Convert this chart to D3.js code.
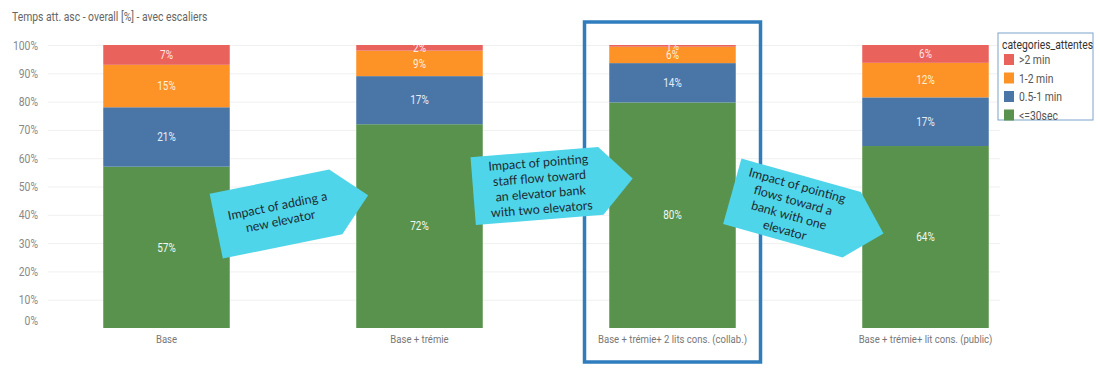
<!DOCTYPE html>
<html>
<head>
<meta charset="utf-8">
<script src="https://cdn.jsdelivr.net/npm/d3@7"></script>
<style>
  body { margin: 0; background: #fff; }
  svg { display: block; font-family: "Roboto", sans-serif; }
</style>
</head>
<body>
<svg width="1100" height="370"></svg>
<script>
// data
var scenarios = ["Base", "Base + trémie", "Base + trémie+ 2 lits cons. (collab.)", "Base + trémie+ lit cons. (public)"];
var categories = [">2 min", "1-2 min", "0.5-1 min", "<=30sec"];
var colors = ["#ea625c", "#fd9227", "#4a76a7", "#58924d"];
var over2min = [7, 2, 0.6, 6.3];
var min1to2 = [15, 9, 5.8, 12.2];
var min05to1 = [21, 17, 13.9, 17.2];
var under30s = [57, 72, 79.7, 64.3];
var yTicks = [0, 10, 20, 30, 40, 50, 60, 70, 80, 90, 100];

var arrows = [
  {cx: 276, cy: 214, bw: 122, h: 66, tl: 33, rot: -11.5, dx: 3, lines: ["Impact of adding a", "new elevator"]},
  {cx: 537, cy: 186, bw: 128, h: 68, tl: 32, rot: -4.5, dx: 3, lines: ["Impact of pointing", "staff flow toward", "an elevator bank", "with two elevators"]},
  {cx: 792, cy: 208, bw: 124, h: 68, tl: 33, rot: 15.6, dx: -1, lines: ["Impact of pointing", "flows toward a", "bank with one", "elevator"]}
];

var svg = d3.select("svg");
var narrow = 0.83; // horizontal squeeze to mimic the condensed font

var rows = scenarios.map(function(s, i) {
  return {scenario: s, ">2 min": over2min[i], "1-2 min": min1to2[i], "0.5-1 min": min05to1[i], "<=30sec": under30s[i]};
});

// stack from bottom: <=30sec first
var stackOrder = categories.slice().reverse();
var series = d3.stack().keys(stackOrder)(rows);

var x = d3.scaleBand().domain(scenarios).range([40, 1052]).paddingInner(0.5).paddingOuter(0.25);
var y = d3.scaleLinear().domain([0, 100]).range([328, 45]);
var color = d3.scaleOrdinal().domain(categories).range(colors);

function narrowText(g, px, py) {
  return g.append("g").attr("transform", "translate(" + px + "," + py + ") scale(" + narrow + ",1)")
    .append("text");
}

// title
narrowText(svg, 12, 21)
  .attr("fill", "#666").style("font-size", "12.5px")
  .text("Temps att. asc - overall [%] - avec escaliers");

// gridlines
svg.append("g").selectAll("line")
  .data(yTicks.slice(1))
  .enter().append("line")
  .attr("x1", 48).attr("x2", 1000)
  .attr("y1", function(d) { return y(d) + 0.5; })
  .attr("y2", function(d) { return y(d) + 0.5; })
  .attr("stroke", "#f0f0f0");

// y axis
var yAxis = svg.append("g")
  .attr("transform", "translate(38,0)")
  .call(d3.axisLeft(y).tickValues(yTicks).tickFormat(function(d) { return d + "%"; }).tickSize(0).tickPadding(0));
yAxis.select(".domain").remove();
yAxis.selectAll("text")
  .attr("fill", "#888").style("font-size", "12.5px")
  .style("font-family", "Roboto, sans-serif")
  .attr("transform", "scale(" + narrow + ",1)")
  .attr("dy", function(d) { return d === 0 ? "-0.3em" : "0.32em"; });

// bars
svg.append("defs").append("clipPath").attr("id", "plot")
  .append("rect").attr("x", 0).attr("y", y(100)).attr("width", 1100).attr("height", 300);

var layer = svg.append("g").selectAll("g")
  .data(series)
  .enter().append("g")
  .attr("fill", function(d) { return color(d.key); });

layer.selectAll("rect")
  .data(function(d) { return d; })
  .enter().append("rect")
  .attr("x", function(d) { return x(d.data.scenario); })
  .attr("width", x.bandwidth())
  .attr("y", function(d) { return y(d[1]); })
  .attr("height", function(d) { return y(d[0]) - y(d[1]); });

var labelColor = {">2 min": "#ffe6e3", "1-2 min": "#fff0d8", "0.5-1 min": "#e4eefa", "<=30sec": "#f2f8ef"};
var labels = svg.append("g").attr("clip-path", "url(#plot)");
series.forEach(function(s) {
  labels.selectAll(null)
    .data(s)
    .enter().append("g")
    .attr("transform", function(d) {
      return "translate(" + (x(d.data.scenario) + x.bandwidth() / 2) + "," + ((y(d[0]) + y(d[1])) / 2) + ") scale(" + narrow + ",1)";
    })
    .append("text")
    .attr("dy", "0.35em")
    .attr("text-anchor", "middle")
    .attr("fill", labelColor[s.key])
    .style("font-size", "12px")
    .text(function(d) { return Math.round(d[1] - d[0]) + "%"; });
});

// x axis labels
var xAxis = svg.append("g")
  .attr("transform", "translate(0,328)")
  .call(d3.axisBottom(x).tickSize(0).tickPadding(7));
xAxis.select(".domain").remove();
xAxis.selectAll("text")
  .attr("fill", "#777").style("font-size", "11.5px")
  .style("font-family", "Roboto, sans-serif")
  .attr("transform", "scale(" + narrow + ",1)");

// highlight box around third scenario
var hx = x(scenarios[2]) + x.bandwidth() / 2;
svg.append("rect")
  .attr("x", hx - 88).attr("y", 22)
  .attr("width", 176).attr("height", 340)
  .attr("fill", "none")
  .attr("stroke", "#2f7dbd")
  .attr("stroke-width", 3.5);

// legend
var lg = svg.append("g").attr("transform", "translate(998,33)");
lg.append("rect")
  .attr("width", 95).attr("height", 87)
  .attr("fill", "#fff").attr("stroke", "#7ca3cc").attr("stroke-width", 1);
narrowText(lg, 4, 16)
  .attr("fill", "#333").style("font-size", "12.5px")
  .text("categories_attentes");
var items = lg.selectAll("g.item")
  .data(categories)
  .enter().append("g")
  .attr("class", "item")
  .attr("transform", function(d, i) { return "translate(6," + (21 + i * 18.5) + ")"; });
items.append("rect")
  .attr("width", 10).attr("height", 11)
  .attr("fill", function(d) { return color(d); });
items.append("g")
  .attr("transform", "translate(15,6) scale(" + narrow + ",1)")
  .append("text")
  .attr("dy", "0.35em")
  .attr("fill", "#555").style("font-size", "12.5px")
  .text(function(d) { return d; });

// annotation arrows
var ag = svg.append("g").selectAll("g")
  .data(arrows)
  .enter().append("g")
  .attr("transform", function(d) { return "translate(" + d.cx + "," + d.cy + ") rotate(" + d.rot + ")"; });

ag.append("path")
  .attr("d", function(d) {
    var l = -d.bw / 2, r = d.bw / 2, t = -d.h / 2, b = d.h / 2;
    return "M" + l + "," + t + "L" + r + "," + t + "L" + (r + d.tl) + ",0L" + r + "," + b + "L" + l + "," + b + "Z";
  })
  .attr("fill", "#4fd5ea");

ag.each(function(d) {
  var g = d3.select(this);
  var lh = 15.5;
  var y0 = -(d.lines.length - 1) * lh / 2;
  d.lines.forEach(function(line, i) {
    g.append("text")
      .attr("x", d.dx).attr("y", y0 + i * lh)
      .attr("dy", "0.35em")
      .attr("text-anchor", "middle")
      .attr("fill", "#1d2a30")
      .style("font-family", "Lato, sans-serif")
      .style("font-size", "12.5px")
      .text(line);
  });
});
</script>
</body>
</html>
